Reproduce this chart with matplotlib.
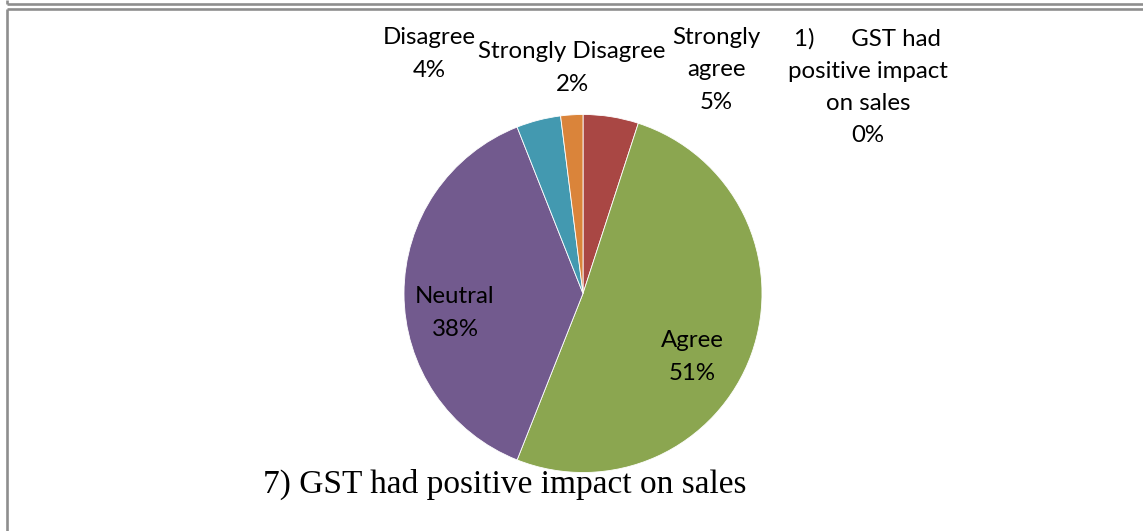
import matplotlib
matplotlib.use("Agg")
import matplotlib.pyplot as plt
from matplotlib.lines import Line2D

# Survey responses for statement 7
categories = ["1)      GST had\npositive impact\non sales", "Strongly\nagree", "Agree",
              "Neutral", "Disagree", "Strongly Disagree"]
shares = [0, 5, 51, 38, 4, 2]
colors = ["#4a7ebb", "#a94744", "#8ba650", "#725a8e", "#4399b0", "#da843a"]
title = "7) GST had positive impact on sales"

W, H = 1143, 531
fig = plt.figure(figsize=(W / 100, H / 100), dpi=100)
fig.patch.set_facecolor("white")


def fx(px):
    return px / W


def fy(py):
    return 1 - py / H


# Page frame lines
frame_kw = dict(color="#8e8e8e", linewidth=1.9, transform=fig.transFigure, solid_capstyle="butt")
fig.add_artist(Line2D([fx(7), fx(W)], [fy(3.5), fy(3.5)], **frame_kw))
fig.add_artist(Line2D([fx(7), fx(7)], [fy(0), fy(3.5)], **frame_kw))
fig.add_artist(Line2D([fx(7), fx(W)], [fy(8.5), fy(8.5)], **frame_kw))
fig.add_artist(Line2D([fx(7), fx(7)], [fy(8.5), fy(H)], **frame_kw))

# Pie axes
cx, cy, r = 583, 293.5, 179
ax = fig.add_axes([fx(cx - r), fy(cy + r), 2 * r / W, 2 * r / H])
ax.pie(shares, colors=colors, startangle=90, counterclock=False, radius=1,
       wedgeprops=dict(linewidth=0.6, edgecolor="white"))
ax.set_xlim(-1, 1)
ax.set_ylim(-1, 1)
ax.set_aspect("auto")
ax.axis("off")

# Data labels (pixel anchor of each label block centre)
label_pos = [(868, 87), (716, 70), (692, 357), (455, 313), (429, 54), (572, 68)]
label_font = dict(family="Lato", size=17.3, color="black")
for name, val, (px, py) in zip(categories, shares, label_pos):
    fig.text(fx(px), fy(py), f"{name}\n{val}%", ha="center", va="center",
             linespacing=1.65, **label_font)

fig.text(fx(505), fy(484), title, ha="center", va="center",
         family="Liberation Serif", size=24, color="black")

fig.savefig("out.png", dpi=100)
